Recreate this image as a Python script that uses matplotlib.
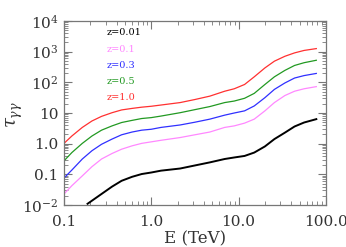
import numpy as np
import matplotlib
matplotlib.use("Agg")
import matplotlib.pyplot as plt
from matplotlib.ticker import FixedLocator, FixedFormatter, LogLocator, NullFormatter

# photon energy (TeV) sample points
energy = [0.1, 0.123, 0.162, 0.209, 0.269, 0.355, 0.457, 0.603, 0.776, 1.0,
          1.29, 2.14, 3.16, 4.68, 6.92, 8.91, 11.7, 15.1, 20.0, 25.7,
          33.9, 43.7, 56.2, 77.6]

# log10 of optical depth for each redshift
log_tau_01 = [-1.64, -1.37, -1.05, -0.75, -0.50, -0.32, -0.18, -0.07, 0.01, 0.06,
              0.11, 0.20, 0.29, 0.38, 0.53, 0.58, 0.67, 0.80, 1.07, 1.34,
              1.57, 1.71, 1.79, 1.86]
log_tau_03 = [-1.12, -0.86, -0.50, -0.23, -0.02, 0.15, 0.29, 0.38, 0.44, 0.47,
              0.53, 0.61, 0.70, 0.80, 0.93, 1.00, 1.07, 1.23, 1.50, 1.77,
              1.98, 2.14, 2.22, 2.29]
log_tau_05 = [-0.56, -0.29, 0.01, 0.25, 0.44, 0.58, 0.69, 0.76, 0.82, 0.85,
              0.90, 1.01, 1.11, 1.21, 1.34, 1.39, 1.48, 1.64, 1.93, 2.18,
              2.39, 2.55, 2.64, 2.72]
log_tau_10 = [0.01, 0.25, 0.53, 0.74, 0.89, 1.01, 1.10, 1.15, 1.19, 1.22,
              1.26, 1.34, 1.44, 1.55, 1.71, 1.79, 1.93, 2.18, 2.47, 2.69,
              2.85, 2.96, 3.04, 3.10]

# z=0.01 only enters the plot above ~0.19 TeV
energy_001 = [0.186, 0.269, 0.355, 0.457, 0.603, 0.776, 1.0,
              1.29, 2.14, 3.16, 4.68, 6.92, 8.91, 11.7, 15.1, 20.0, 25.7,
              33.9, 43.7, 56.2, 77.6]
log_tau_001 = [-1.96, -1.64, -1.40, -1.21, -1.08, -0.99, -0.94,
               -0.88, -0.81, -0.71, -0.61, -0.50, -0.45, -0.40, -0.29, -0.09, 0.15,
               0.36, 0.56, 0.69, 0.80]

labels = ["z=0.01", "z=0.1", "z=0.3", "z=0.5", "z=1.0"]
colors = ["black", "#ff88ff", "#3030ff", "#229922", "#ff3030"]
xs = [energy_001, energy, energy, energy, energy]
series = [log_tau_001, log_tau_01, log_tau_03, log_tau_05, log_tau_10]

ytick_vals = [1e-2, 0.1, 1.0, 10, 1e2, 1e3, 1e4]
ytick_labels = [r"$10^{-2}$", "0.1", "1.0", "10", r"$10^{2}$", r"$10^{3}$", r"$10^{4}$"]
xtick_vals = [0.1, 1.0, 10.0, 100.0]
xtick_labels = ["0.1", "1.0", "10.0", "100.0"]

plt.rcParams["font.family"] = ["DejaVu Serif"]
plt.rcParams["mathtext.fontset"] = "dejavuserif"

fig = plt.figure(figsize=(3.46, 2.47), dpi=100)
ax = fig.add_axes([0.185, 0.170, 0.757, 0.745])

for x, vals, col in zip(xs, series, colors):
    lw = 1.4 if col == "black" else 0.9
    ax.plot(x, 10 ** np.array(vals), color=col, lw=lw)

ax.set_xscale("log")
ax.set_yscale("log")
ax.set_xlim(0.1, 100)
ax.set_ylim(0.01, 1e4)

ax.xaxis.set_major_locator(FixedLocator(xtick_vals))
ax.xaxis.set_major_formatter(FixedFormatter(xtick_labels))
ax.yaxis.set_major_locator(FixedLocator(ytick_vals))
ax.yaxis.set_major_formatter(FixedFormatter(ytick_labels))
ax.xaxis.set_minor_locator(LogLocator(base=10, subs=np.arange(2, 10), numticks=20))
ax.yaxis.set_minor_locator(LogLocator(base=10, subs=np.arange(2, 10), numticks=20))
ax.xaxis.set_minor_formatter(NullFormatter())
ax.yaxis.set_minor_formatter(NullFormatter())

ax.tick_params(which="both", direction="in", top=True, right=True, color="#777777",
               labelsize=11, labelcolor="#333333")
ax.tick_params(which="major", length=6, width=0.8, pad=4)
ax.tick_params(which="minor", length=3, width=0.6)
ax.tick_params(axis="x", which="major", pad=7)
for sp in ax.spines.values():
    sp.set_color("#777777")
    sp.set_linewidth(0.9)

ax.set_ylabel(r"$\tau_{\gamma\gamma}$", fontsize=13, color="#333333")
ax.yaxis.set_label_coords(-0.15, 0.49)
ax.set_xlabel("E (TeV)", fontsize=12, color="#333333", labelpad=1)

for i, (lab, col) in enumerate(zip(labels, colors)):
    ax.text(0.164, 0.935 - i * 0.088, lab, color=col, fontsize=7,
            transform=ax.transAxes, va="center", ha="left")

fig.savefig("out.png", dpi=100)
